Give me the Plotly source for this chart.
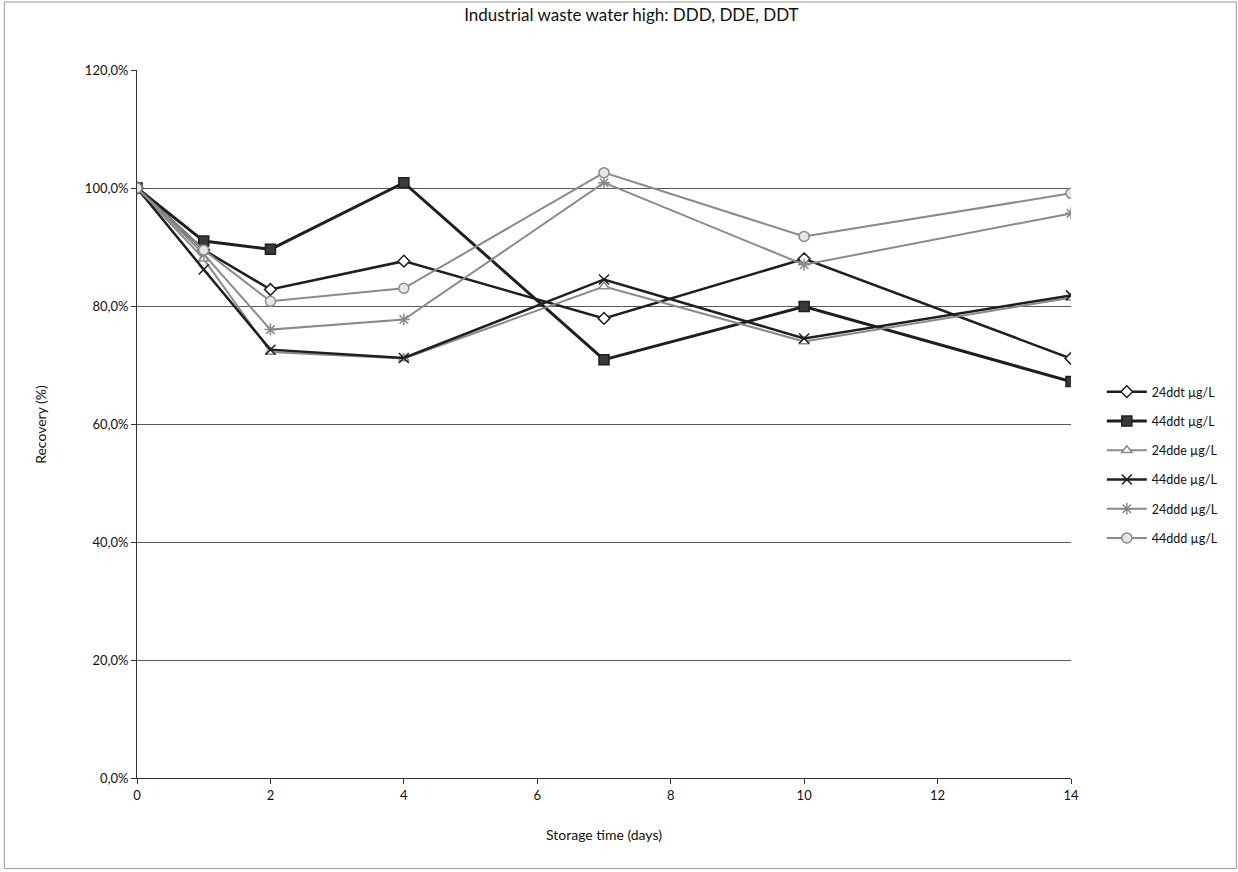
import plotly.graph_objects as go

days = [0, 1, 2, 4, 7, 10, 14]
series_names = ["24ddt µg/L", "44ddt µg/L", "24dde µg/L", "44dde µg/L", "24ddd µg/L", "44ddd µg/L"]
v_24ddt = [1.000, 0.895, 0.828, 0.876, 0.779, 0.880, 0.711]
v_44ddt = [1.000, 0.910, 0.896, 1.009, 0.709, 0.799, 0.672]
v_24dde = [1.000, 0.880, 0.722, 0.711, 0.833, 0.740, 0.814]
v_44dde = [1.000, 0.862, 0.726, 0.712, 0.845, 0.745, 0.818]
v_24ddd = [1.000, 0.888, 0.760, 0.777, 1.009, 0.870, 0.957]
v_44ddd = [1.000, 0.895, 0.808, 0.830, 1.026, 0.918, 0.991]
x_ticks = [0, 2, 4, 6, 8, 10, 12, 14]
y_ticks = [0, 0.2, 0.4, 0.6, 0.8, 1.0, 1.2]

values = [v_24ddt, v_44ddt, v_24dde, v_44dde, v_24ddd, v_44ddd]

DARK = "#1e1e1e"
GRAY = "#8a8a8a"
styles = [
    dict(line=dict(color=DARK, width=2.5),
         marker=dict(symbol="diamond", size=9, color="white", line=dict(color=DARK, width=1.5))),
    dict(line=dict(color=DARK, width=3),
         marker=dict(symbol="square", size=10, color="#3a3a3a", line=dict(color=DARK, width=1.5))),
    dict(line=dict(color=GRAY, width=2),
         marker=dict(symbol="triangle-up", size=9, color="white", line=dict(color=GRAY, width=1.5))),
    dict(line=dict(color=DARK, width=2.5),
         marker=dict(symbol="x-thin-open", size=10, color=DARK, line=dict(color=DARK, width=1.5))),
    dict(line=dict(color=GRAY, width=2),
         marker=dict(symbol="asterisk-open", size=10, color=GRAY, line=dict(color=GRAY, width=1.5))),
    dict(line=dict(color=GRAY, width=2),
         marker=dict(symbol="circle", size=10, color="#e6e6e6", line=dict(color=GRAY, width=1.5))),
]

fig = go.Figure()
for i, (name, vals, st) in enumerate(zip(series_names, values, styles)):
    fig.add_trace(go.Scatter(x=days, y=vals, name=name, mode="lines+markers",
                             line=st["line"], marker=st["marker"],
                             legendgroup=f"g{i}"))

FONT = "Lato"
fig.update_layout(
    width=1238, height=872,
    margin=dict(l=137, r=167, t=70, b=94),
    paper_bgcolor="white", plot_bgcolor="white",
    separators=", ",
    font=dict(family=FONT, size=13, color="#111111"),
    title=dict(text="Industrial waste water high: DDD, DDE, DDT",
               x=0.51, xanchor="center", y=0.983, yanchor="middle",
               font=dict(family=FONT, size=17, color="#111111")),
    showlegend=True,
    legend=dict(x=1.033, xanchor="left", y=0.442, yanchor="middle",
                traceorder="grouped", tracegroupgap=10,
                font=dict(family=FONT, size=12.5, color="#111111"),
                bgcolor="rgba(0,0,0,0)", itemwidth=40),
    xaxis=dict(range=[0, 14], tickvals=x_ticks, showgrid=False, zeroline=False,
               showline=True, linecolor="#333333", linewidth=1,
               ticks="outside", ticklen=5, tickcolor="#333333",
               tickfont=dict(family=FONT, size=13)),
    yaxis=dict(range=[0, 1.2], tickvals=y_ticks, tickformat=".1%",
               showgrid=True, gridcolor="#5a5a5a", gridwidth=1, zeroline=False,
               showline=True, linecolor="#333333", linewidth=1,
               ticks="outside", ticklen=5, tickcolor="#333333",
               tickfont=dict(family=FONT, size=13)),
    annotations=[
        dict(text="Storage time (days)", xref="paper", yref="paper",
             x=0.5, y=-0.08, xanchor="center", yanchor="middle", showarrow=False,
             font=dict(family=FONT, size=14)),
        dict(text="Recovery (%)", xref="paper", yref="paper",
             x=-0.104, y=0.5, xanchor="center", yanchor="middle", showarrow=False,
             textangle=-90, font=dict(family=FONT, size=14)),
    ],
    shapes=[
        dict(type="rect", xref="paper", yref="paper",
             x0=-0.142, x1=1.177, y0=-0.128, y1=1.096,
             line=dict(color="#9a9a9a", width=1), layer="below"),
    ],
)

fig.write_html("out.html")
